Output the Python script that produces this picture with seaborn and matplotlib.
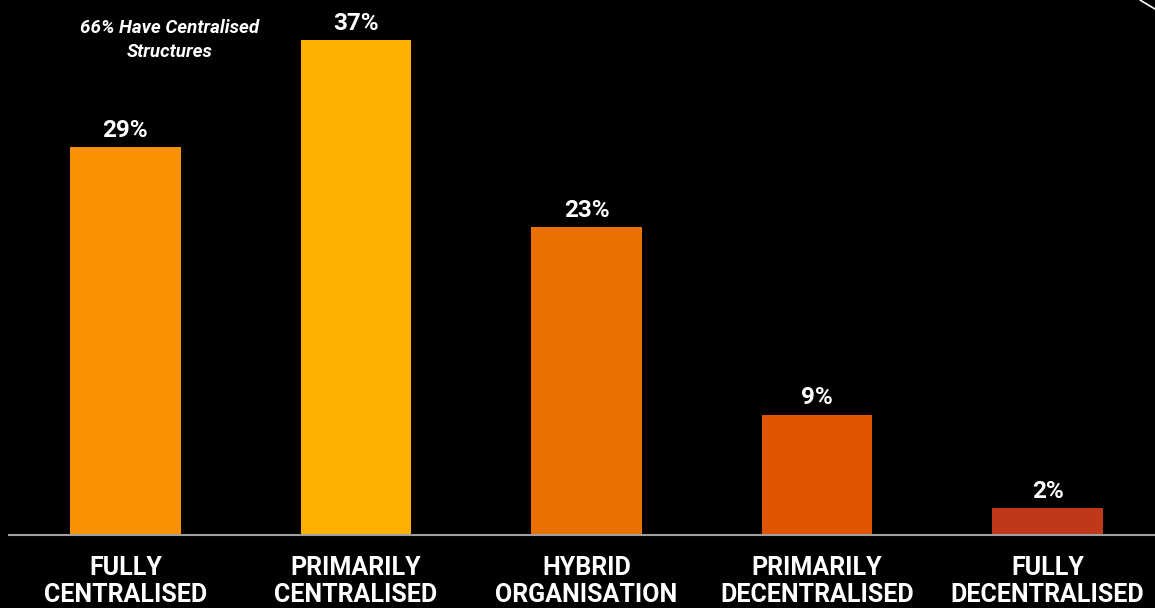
import matplotlib
matplotlib.use("Agg")
import matplotlib.pyplot as plt
import seaborn as sns
import pandas as pd
from matplotlib.lines import Line2D

categories = ["FULLY\nCENTRALISED", "PRIMARILY\nCENTRALISED", "HYBRID\nORGANISATION",
              "PRIMARILY\nDECENTRALISED", "FULLY\nDECENTRALISED"]
values = [29, 37, 23, 9, 2]
labels = ["29%", "37%", "23%", "9%", "2%"]
colors = ["#F99100", "#FFB000", "#EA7100", "#E15500", "#BF381A"]
annotation = "66% Have Centralised\nStructures"

sns.set_theme(style="white")
plt.rcParams['font.family'] = ['Roboto', 'DejaVu Sans']

df = pd.DataFrame({"cat": categories, "val": values})

fig = plt.figure(figsize=(11.55, 6.08), dpi=100, facecolor="black")
ax = fig.add_axes([9 / 1155, 73 / 608, 1 - 9 / 1155, 535 / 608])
ax.set_facecolor("black")

sns.barplot(data=df, x="cat", y="val", hue="cat", palette=colors, legend=False,
            width=0.48, saturation=1, edgecolor="none", linewidth=0, ax=ax)

ax.set_xlim(-0.505, 4.466)
ax.set_ylim(0, 40)

for i, (v, lab) in enumerate(zip(values, labels)):
    ax.annotate(lab, (i, v), xytext=(0, 4), textcoords="offset points",
                ha="center", va="bottom", color="white", fontsize=17.5, fontweight="bold")

ax.set_xlabel("")
ax.set_ylabel("")
ax.set_yticks([])
ax.tick_params(axis="x", length=0, pad=15, colors="white", labelsize=18)
for t in ax.get_xticklabels():
    t.set_fontweight("bold")
    t.set_linespacing(1.17)
    t.set_va("top")
for s in ["top", "right", "left"]:
    ax.spines[s].set_visible(False)
ax.spines["bottom"].set_color("#A0A0A0")
ax.spines["bottom"].set_linewidth(1.5)

fig.text(170 / 1155, 1 - 40 / 608, annotation, ha="center", va="center", color="white",
         fontsize=13.5, fontweight="bold", fontstyle="italic", linespacing=1.4)

fig.add_artist(Line2D([1140 / 1155, 1.0], [1.0, 1 - 9 / 608], color="white", lw=1.2,
                      transform=fig.transFigure))

fig.savefig("out.png", dpi=100, facecolor="black")
